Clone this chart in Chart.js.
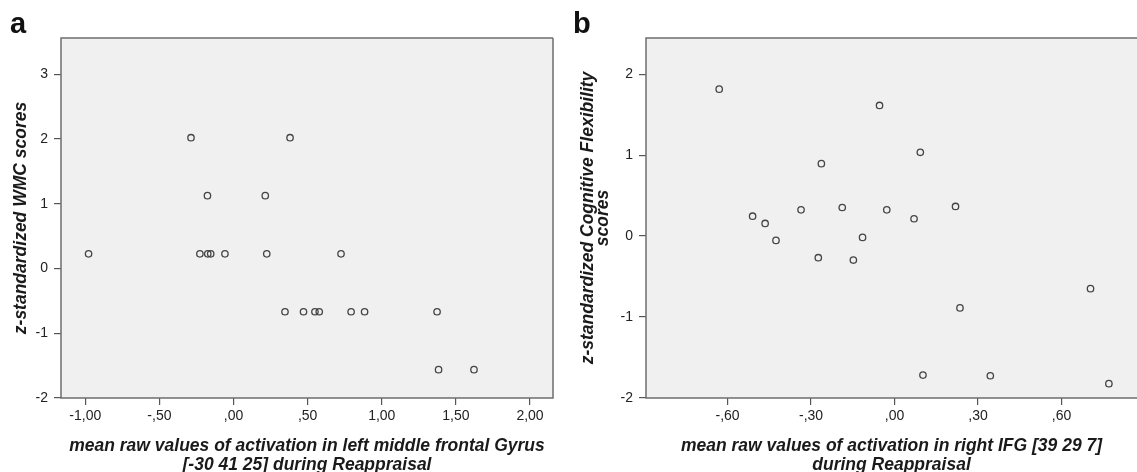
<!DOCTYPE html>
<html lang="en">
<head>
    <meta charset="UTF-8">
    <title>Activation vs. z-standardized scores</title>
    <script src="https://cdn.jsdelivr.net/npm/chart.js"></script>
    <style>
        body { margin: 0; background: #fff; overflow: hidden; }
        .panel { position: absolute; top: 0; height: 472px; }
        #panelA { left: 0; width: 560px; }
        #panelB { left: 560px; width: 577px; }
    </style>
</head>
<body>
    <div class="panel" id="panelA"><canvas id="chartA"></canvas></div>
    <div class="panel" id="panelB"><canvas id="chartB"></canvas></div>

    <script>
        // panel a: left middle frontal gyrus vs WMC
        const xA = [-0.978, -0.287, 0.381, -0.176, 0.214, -0.227, -0.174, -0.154, -0.058, 0.224,
                    0.725, 0.347, 0.472, 0.549, 0.578, 0.793, 0.884, 1.373, 1.383, 1.622];
        const yA = [0.226, 2.02, 2.02, 1.125, 1.125, 0.226, 0.226, 0.226, 0.226, 0.226,
                    0.226, -0.668, -0.668, -0.668, -0.668, -0.668, -0.668, -0.668, -1.562, -1.562];
        const xTicksA = [-1, -0.5, 0, 0.5, 1, 1.5, 2];
        const xLabelsA = ['-1,00', '-,50', ',00', ',50', '1,00', '1,50', '2,00'];
        const yTicksA = [-2, -1, 0, 1, 2, 3];
        const yLabelsA = ['-2', '-1', '0', '1', '2', '3'];

        // panel b: right IFG vs cognitive flexibility
        const xB = [-0.630, -0.054, 0.0925, -0.263, -0.510, -0.465, -0.426, -0.336, -0.188, -0.028,
                    0.070, 0.219, -0.115, -0.274, -0.148, 0.704, 0.235, 0.102, 0.344, 0.770];
        const yB = [1.815, 1.614, 1.035, 0.895, 0.246, 0.156, -0.053, 0.324, 0.353, 0.324,
                    0.214, 0.366, -0.016, -0.267, -0.296, -0.649, -0.887, -1.717, -1.725, -1.823];
        const xTicksB = [-0.6, -0.3, 0, 0.3, 0.6];
        const xLabelsB = ['-,60', '-,30', ',00', ',30', ',60'];
        const yTicksB = [-2, -1, 0, 1, 2];
        const yLabelsB = ['-2', '-1', '0', '1', '2'];

        const FONT = "'Liberation Sans', Arial, sans-serif";

        const frame = {
            id: 'frame',
            beforeDatasetsDraw(chart) {
                const { ctx, chartArea: a } = chart;
                ctx.save();
                ctx.fillStyle = '#f0f0f0';
                ctx.fillRect(a.left, a.top, a.right - a.left, a.bottom - a.top);
                ctx.restore();
            },
            afterDraw(chart, args, opts) {
                const { ctx, chartArea: a } = chart;
                ctx.save();
                ctx.strokeStyle = '#6e6e6e';
                ctx.lineWidth = 1.5;
                ctx.beginPath();
                ctx.moveTo(a.right, a.top);
                ctx.lineTo(a.left, a.top);
                ctx.lineTo(a.left, a.bottom);
                ctx.lineTo(a.right, a.bottom);
                if (opts.rightEdge) ctx.lineTo(a.right, a.top);
                ctx.stroke();
                ctx.fillStyle = '#111';
                ctx.font = 'bold 29px ' + FONT;
                ctx.textBaseline = 'alphabetic';
                ctx.fillText(opts.letter, opts.lx, 33);
                ctx.restore();
            }
        };

        function makeChart(id, xs, ys, cfg) {
            const points = xs.map((x, i) => ({ x: x, y: ys[i] }));
            const tickGrid = { drawOnChartArea: false, drawTicks: true, tickLength: 7, color: '#555', lineWidth: 1.2 };
            return new Chart(document.getElementById(id), {
                type: 'scatter',
                data: {
                    datasets: [{
                        data: points,
                        pointStyle: 'circle',
                        pointRadius: 3.2,
                        pointBorderWidth: 1.3,
                        borderColor: '#444',
                        backgroundColor: 'rgba(0,0,0,0)'
                    }]
                },
                options: {
                    responsive: true,
                    maintainAspectRatio: false,
                    animation: false,
                    layout: { autoPadding: false, padding: { top: 38, right: cfg.padRight, left: 0, bottom: 0 } },
                    plugins: {
                        legend: { display: false },
                        tooltip: { enabled: false },
                        frame: { letter: cfg.letter, lx: cfg.lx, rightEdge: cfg.padRight > 0 }
                    },
                    scales: {
                        x: {
                            type: 'linear',
                            min: cfg.xMin, max: cfg.xMax,
                            border: { display: false },
                            grid: tickGrid,
                            afterBuildTicks: s => { s.ticks = cfg.xTicks.map(v => ({ value: v })); },
                            afterFit: s => { s.height = 74; s.paddingLeft = 0; s.paddingRight = 0; },
                            ticks: {
                                padding: 3,
                                color: '#222',
                                font: { family: FONT, size: 14 },
                                callback: (v, i) => cfg.xLabels[i]
                            },
                            title: {
                                display: true,
                                text: cfg.xTitle,
                                color: '#1a1a1a',
                                padding: { top: 0, bottom: -2 },
                                font: { family: FONT, size: 17.5, weight: 'bold', style: 'italic', lineHeight: 1.06 }
                            }
                        },
                        y: {
                            type: 'linear',
                            min: -2, max: cfg.yMax,
                            border: { display: false },
                            grid: tickGrid,
                            afterBuildTicks: s => { s.ticks = cfg.yTicks.map(v => ({ value: v })); },
                            afterFit: s => { s.width = cfg.yWidth; },
                            ticks: {
                                padding: 6,
                                color: '#222',
                                font: { family: FONT, size: 14 },
                                callback: (v, i) => cfg.yLabels[i]
                            },
                            title: {
                                display: true,
                                text: cfg.yTitle,
                                color: '#1a1a1a',
                                padding: { top: cfg.yTitlePad, bottom: 0 },
                                font: { family: FONT, size: 17.5, weight: 'bold', style: 'italic', lineHeight: cfg.yLine }
                            }
                        }
                    }
                },
                plugins: [frame]
            });
        }

        makeChart('chartA', xA, yA, {
            letter: 'a', lx: 10, padRight: 7,
            xMin: -1.164, xMax: 2.155, yMax: 3.56,
            xTicks: xTicksA, xLabels: xLabelsA, yTicks: yTicksA, yLabels: yLabelsA,
            yWidth: 61, yTitlePad: 12, yLine: 1.1,
            xTitle: ['mean raw values of activation in left middle frontal Gyrus', '[-30 41 25] during Reappraisal'],
            yTitle: 'z-standardized WMC scores'
        });

        makeChart('chartB', xB, yB, {
            letter: 'b', lx: 13, padRight: 0,
            xMin: -0.893, xMax: 0.871, yMax: 2.447,
            xTicks: xTicksB, xLabels: xLabelsB, yTicks: yTicksB, yLabels: yLabelsB,
            yWidth: 86, yTitlePad: 20, yLine: 0.9,
            xTitle: ['mean raw values of activation in right IFG [39 29 7]', 'during Reappraisal'],
            yTitle: ['z-standardized Cognitive Flexibility', 'scores']
        });
    </script>
</body>
</html>
